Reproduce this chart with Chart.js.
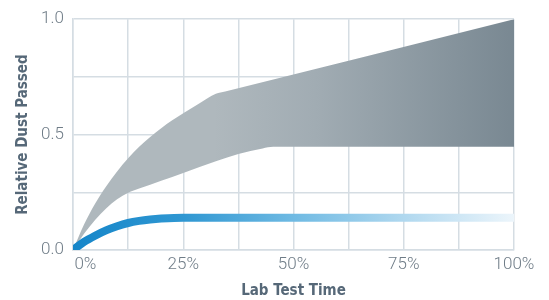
<!DOCTYPE html>
<html lang="en">
<head>
    <meta charset="UTF-8">
    <title>Relative Dust Passed vs Lab Test Time</title>
    <style>
        body {
            margin: 0;
            background-color: #ffffff;
        }
        canvas {
            display: block;
        }
    </style>
    <script src="https://cdn.jsdelivr.net/npm/chart.js"></script>
</head>
<body>
    <canvas id="dustChart" width="549" height="300"></canvas>

    <script>
        // Values (x = % of lab test time)
        const upperTime = [0, 2.5, 5, 7.5, 10, 12.5, 15, 17.5, 20, 22.5, 25, 28.7, 30.5, 32.4, 34.5, 100];
        const upperDust = [0, 0.11, 0.2, 0.275, 0.34, 0.397, 0.447, 0.49, 0.528, 0.562, 0.593, 0.636, 0.657, 0.677, 0.687, 1.0];

        const lowerTime = [0, 2.5, 5, 7.5, 10, 12.5, 15, 20, 25, 32.4, 37.5, 43, 45.4, 48, 100];
        const lowerDust = [0, 0.07, 0.13, 0.18, 0.22, 0.248, 0.266, 0.3, 0.334, 0.385, 0.416, 0.44, 0.447, 0.447, 0.447];

        const blueTime = [0, 2.5, 5, 7.5, 10, 12.5, 15, 17.5, 20, 25, 100];
        const blueDust = [0, 0.035, 0.062, 0.085, 0.103, 0.117, 0.126, 0.132, 0.136, 0.14, 0.14];

        const xTickLabels = ['      0%', '25%', '50%', '75%', '100%'];
        const yTickLabels = ['0.0', '0.5', '1.0'];

        function toPoints(xs, ys) {
            return xs.map((x, i) => ({ x: x, y: ys[i] }));
        }

        // horizontal gradient across the plot area
        function grayFill(context) {
            const area = context.chart.chartArea;
            if (!area) return '#afb8bd';
            const g = context.chart.ctx.createLinearGradient(area.left, 0, area.right, 0);
            g.addColorStop(0, '#afb8bd');
            g.addColorStop(0.32, '#afb8bd');
            g.addColorStop(0.55, '#a1acb3');
            g.addColorStop(1, '#798892');
            return g;
        }

        function blueStroke(context) {
            const area = context.chart.chartArea;
            if (!area) return '#1b8bcc';
            const g = context.chart.ctx.createLinearGradient(area.left, 0, area.right, 0);
            g.addColorStop(0, '#1686c9');
            g.addColorStop(0.25, '#2f97d2');
            g.addColorStop(0.5, '#6fbae3');
            g.addColorStop(0.75, '#b0d8ef');
            g.addColorStop(1, '#ecf5fb');
            return g;
        }

        const gridColor = '#d5dde3';
        const tickFont = { family: 'Roboto', size: 17, weight: '300' };
        const titleFont = { family: '"DejaVu Sans Condensed", "Liberation Sans Narrow", Roboto, sans-serif', size: 15, weight: 'bold', lineHeight: 1 };

        const ctx = document.getElementById('dustChart').getContext('2d');
        const dustChart = new Chart(ctx, {
            type: 'line',
            data: {
                datasets: [{
                    label: 'Blue',
                    data: toPoints(blueTime, blueDust),
                    borderColor: blueStroke,
                    borderWidth: 8,
                    borderCapStyle: 'butt',
                    cubicInterpolationMode: 'monotone',
                    pointRadius: 0,
                    fill: false
                }, {
                    label: 'Upper',
                    data: toPoints(upperTime, upperDust),
                    borderWidth: 0,
                    borderColor: 'rgba(0,0,0,0)',
                    cubicInterpolationMode: 'monotone',
                    pointRadius: 0,
                    fill: false
                }, {
                    label: 'Lower',
                    data: toPoints(lowerTime, lowerDust),
                    borderWidth: 0,
                    borderColor: 'rgba(0,0,0,0)',
                    backgroundColor: grayFill,
                    cubicInterpolationMode: 'monotone',
                    pointRadius: 0,
                    fill: 1
                }]
            },
            options: {
                responsive: false,
                animation: false,
                layout: {
                    padding: { left: 0, right: 35, top: 17, bottom: 0 }
                },
                scales: {
                    x: {
                        type: 'linear',
                        min: 0,
                        max: 100,
                        afterFit: (scale) => { scale.height = 50; },
                        grid: { color: gridColor, lineWidth: 1.5, drawTicks: false },
                        border: { color: gridColor, width: 1.5 },
                        ticks: {
                            stepSize: 12.5,
                            autoSkip: false,
                            maxRotation: 0,
                            padding: 5,
                            color: '#6f7c87',
                            font: tickFont,
                            callback: (v) => (v % 25 === 0 ? xTickLabels[v / 25] : '')
                        },
                        title: {
                            display: true,
                            text: 'Lab Test Time',
                            color: '#566878',
                            font: titleFont,
                            padding: { top: 0, bottom: 1 }
                        }
                    },
                    y: {
                        min: 0,
                        max: 1,
                        afterFit: (scale) => { scale.width = 73; },
                        grid: { color: gridColor, lineWidth: 1.5, drawTicks: false },
                        border: { color: gridColor, width: 1.5 },
                        ticks: {
                            stepSize: 0.25,
                            padding: 9,
                            color: '#6f7c87',
                            font: tickFont,
                            callback: (v) => (Math.abs(v * 2 - Math.round(v * 2)) < 1e-6 ? yTickLabels[Math.round(v * 2)] : '')
                        },
                        title: {
                            display: true,
                            text: 'Relative Dust Passed',
                            color: '#566878',
                            font: titleFont,
                            padding: { top: 16, bottom: 0 }
                        }
                    }
                },
                plugins: {
                    legend: { display: false },
                    tooltip: { enabled: false }
                }
            }
        });
    </script>
</body>
</html>
